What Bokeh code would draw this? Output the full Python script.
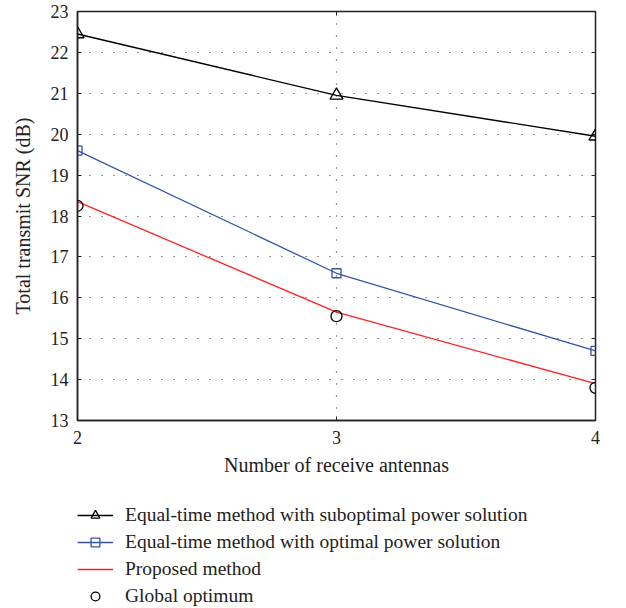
from bokeh.plotting import figure
from bokeh.layouts import column
from bokeh.models import Legend, LegendItem, LinearAxis, FixedTicker, Range1d
from bokeh.embed import file_html
from bokeh.resources import INLINE

antennas = [2, 3, 4]
equal_subopt = [22.45, 20.95, 19.95]
equal_opt = [19.6, 16.6, 14.7]
proposed = [18.35, 15.65, 13.9]
global_opt = [18.25, 15.55, 13.8]
y_ticks = [13, 14, 15, 16, 17, 18, 19, 20, 21, 22, 23]
x_ticks = [2, 3, 4]
labels = ["Equal-time method with suboptimal power solution",
          "Equal-time method with optimal power solution",
          "Proposed method",
          "Global optimum"]

FONT = "Liberation Serif"
BLUE = "#3454a8"
RED = "#ff2020"

p = figure(width=626, height=504, output_backend="svg", toolbar_location=None,
           x_range=Range1d(2, 4), y_range=Range1d(13, 23),
           min_border_left=77, min_border_right=31, min_border_top=11, min_border_bottom=84)

p.outline_line_color = "#222222"
p.outline_line_width = 1.5
p.background_fill_color = "white"
p.border_fill_color = "white"

for ax in (p.xaxis[0], p.yaxis[0]):
    ax.major_label_text_font = FONT
    ax.major_label_text_font_size = "18px"
    ax.major_label_text_color = "#222222"
    ax.axis_label_text_font = FONT
    ax.axis_label_text_font_size = "20px"
    ax.axis_label_text_font_style = "normal"
    ax.axis_label_text_color = "#222222"
    ax.axis_line_color = "#222222"
    ax.axis_line_width = 1.5
    ax.major_tick_in = 4
    ax.major_tick_out = 0
    ax.minor_tick_line_color = None
    ax.major_tick_line_color = "#222222"

p.xaxis[0].ticker = FixedTicker(ticks=x_ticks)
p.yaxis[0].ticker = FixedTicker(ticks=y_ticks)
p.xaxis[0].axis_label = "Number of receive antennas"
p.yaxis[0].axis_label = "Total transmit SNR (dB)"
p.xaxis[0].major_label_standoff = 10
p.xaxis[0].axis_label_standoff = 7
p.yaxis[0].major_label_standoff = 9
p.yaxis[0].axis_label_standoff = 14

for loc in ("right", "above"):
    ax = LinearAxis(ticker=FixedTicker(ticks=y_ticks if loc == "right" else x_ticks),
                    major_label_text_font_size="0px", major_tick_in=4, major_tick_out=0,
                    minor_tick_line_color=None, axis_line_color=None,
                    major_tick_line_color="#222222")
    p.add_layout(ax, loc)

p.xgrid.ticker = FixedTicker(ticks=[3])
p.ygrid.ticker = FixedTicker(ticks=y_ticks[1:-1])
for g in (p.xgrid[0], p.ygrid[0]):
    g.grid_line_color = "#333333"
    g.grid_line_dash = "1 11"
    g.grid_line_width = 1.2

p.line(antennas, equal_subopt, line_color="black", line_width=1.3)
p.scatter(antennas, equal_subopt, marker="triangle", size=13, fill_color=None,
          line_color="black", line_width=1.3)
p.line(antennas, equal_opt, line_color=BLUE, line_width=1.3)
p.scatter(antennas, equal_opt, marker="square", size=9, fill_color=None,
          line_color=BLUE, line_width=1.3)
p.line(antennas, proposed, line_color=RED, line_width=1.3)
p.scatter(antennas, global_opt, marker="circle", size=11, fill_color=None,
          line_color="black", line_width=1.3)

# Legend panel below the chart (its renderers lie outside its visible range)
q = figure(width=626, height=104, output_backend="svg", toolbar_location=None,
           x_axis_location=None, y_axis_location=None,
           x_range=Range1d(100, 101), y_range=Range1d(100, 101),
           min_border_left=77, min_border_right=0, min_border_top=0, min_border_bottom=0)
q.outline_line_color = None
q.grid.visible = False
q.border_fill_color = "white"
q.background_fill_color = "white"

l1 = q.line(antennas, equal_subopt, line_color="black", line_width=1.3)
m1 = q.scatter(antennas, equal_subopt, marker="triangle", size=10, fill_color=None,
               line_color="black", line_width=1.3)
l2 = q.line(antennas, equal_opt, line_color=BLUE, line_width=1.3)
m2 = q.scatter(antennas, equal_opt, marker="square", size=8, fill_color=None,
               line_color=BLUE, line_width=1.3)
l3 = q.line(antennas, proposed, line_color=RED, line_width=1.3)
m4 = q.scatter(antennas, global_opt, marker="circle", size=9, fill_color=None,
               line_color="black", line_width=1.3)

legend = Legend(items=[
    LegendItem(label=labels[0], renderers=[l1, m1]),
    LegendItem(label=labels[1], renderers=[l2, m2]),
    LegendItem(label=labels[2], renderers=[l3]),
    LegendItem(label=labels[3], renderers=[m4]),
])
legend.label_text_font = FONT
legend.label_text_font_size = "19.5px"
legend.label_text_color = "#222222"
legend.border_line_color = None
legend.background_fill_alpha = 0
legend.glyph_width = 36
legend.glyph_height = 22
legend.label_height = 22
legend.spacing = 5
legend.padding = 0
legend.margin = 0
legend.label_standoff = 12
legend.location = "top_left"
legend.orientation = "vertical"
q.add_layout(legend, "center")

layout = column(p, q, spacing=0)
open("out.html", "w").write(file_html(layout, INLINE))
